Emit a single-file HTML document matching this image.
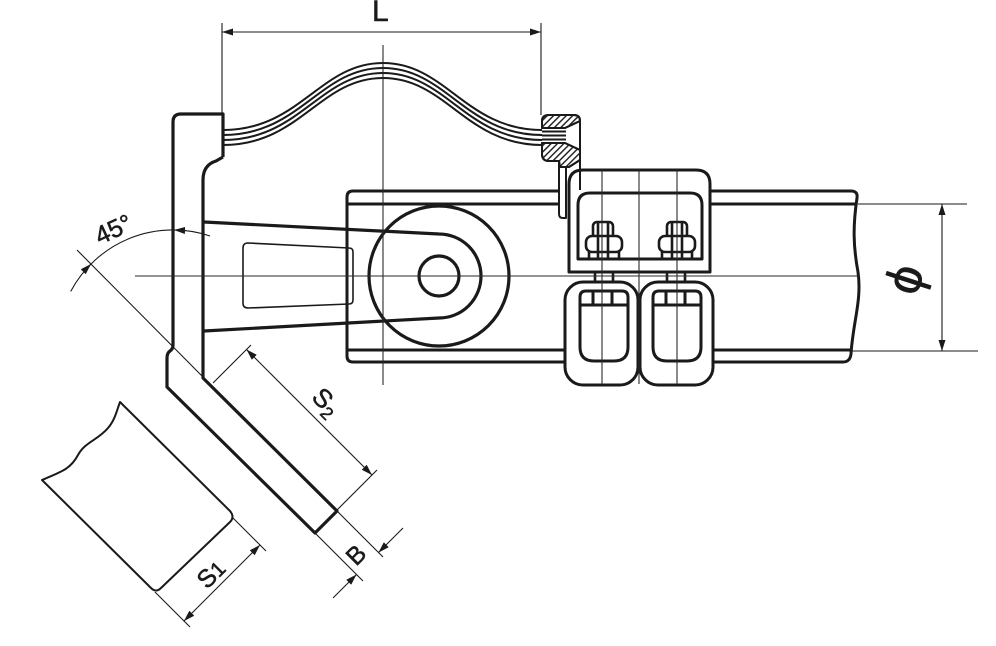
<!DOCTYPE html>
<html><head><meta charset="utf-8"><style>
html,body{margin:0;padding:0;background:#fff;}
svg{display:block;}
text{font-family:"Liberation Sans","DejaVu Sans",sans-serif;fill:#1a1a1a;stroke:#1a1a1a;stroke-width:0.5;}
</style></head><body>
<svg width="996" height="646" viewBox="0 0 996 646" xmlns="http://www.w3.org/2000/svg">
<defs>
<pattern id="h" patternUnits="userSpaceOnUse" width="4.5" height="4.5" patternTransform="rotate(45)">
<line x1="0.7" y1="0" x2="0.7" y2="4.5" stroke="#1a1a1a" stroke-width="1.4"/>
</pattern>
<marker id="a" markerUnits="userSpaceOnUse" markerWidth="11" markerHeight="7" refX="11" refY="3.5" orient="auto-start-reverse"><path d="M0,0 L11,3.5 L0,7 Z" fill="#1a1a1a"/></marker>
</defs>

<!-- pipe -->
<g fill="none" stroke="#1a1a1a" stroke-width="3" stroke-linejoin="round">
<path d="M559,191 L353,191 Q347,191 347,197 L347,356 Q347,362 353,362 L565,362"/>
<path d="M347,204 L559,204 M347,350 L565,350"/>
<path d="M710,191 L851,191 Q858,191 857,198 C853,225 853,245 858,272 C862,300 853,322 851,354 Q850,362 843,362 L713,362"/>
<path d="M710,204 L856,204 M713,350 L851,350"/>
</g>

<!-- bracket -->
<g fill="none" stroke="#1a1a1a" stroke-width="3.2" stroke-linejoin="round">
<path d="M223,157 L223,114 L181,114 Q173,114 173,122 L173,345 Q173,349 170,351 Q167,353 167,358 L167,387 L315,533 L337,511 L203,378 L203,180 Q203,165 216,161 L223,157"/>
<path d="M204,222 L439,234 A42,42 0 0 1 439,318 L204,331"/>
<circle cx="439" cy="276" r="70"/>
<circle cx="439" cy="276" r="20"/>
</g>
<path d="M248,243 L349,248 Q353,248 353,252 L353,300 Q353,304 349,304 L248,308 Q243,308 243,303 L243,248 Q243,243 248,243 Z" fill="none" stroke="#1a1a1a" stroke-width="1.6"/>

<!-- wires -->
<g fill="none" stroke="#1a1a1a" stroke-width="2">
<path d="M223,130 C300,130 320,63 383,63 C446,63 466,130 542,130"/>
<path d="M223,135 C300,135 320,68 383,68 C446,68 466,135 542,135"/>
<path d="M223,140 C300,140 320,73 383,73 C446,73 466,140 542,140"/>
<path d="M223,145 C300,145 320,78 383,78 C446,78 466,145 542,145"/>
<path d="M542,131.5 H566 M542,135.5 H566 M542,139.5 H566"/>
</g>

<!-- hatched end fitting -->
<g stroke="#1a1a1a" stroke-width="2" stroke-linejoin="round">
<path d="M542,128 L542,121 Q542,115 549,115 L574,115 Q580,115 580,121 L565,128 Z" fill="#fff"/>
<path d="M542,128 L542,121 Q542,115 549,115 L574,115 Q580,115 580,121 L565,128 Z" fill="url(#h)"/>
<path d="M542,143 L565,143 L580,150 L580,160 L569,167 L560,167 L559,161 L549,161 Q542,161 542,154 Z" fill="#fff"/>
<path d="M542,143 L565,143 L580,150 L580,160 L569,167 L560,167 L559,161 L549,161 Q542,161 542,154 Z" fill="url(#h)"/>
<path d="M559,161 L559,214 Q559,218 563,218 L566,218 L566,167" fill="none"/>
</g>

<!-- upper clamp box -->
<g stroke="#1a1a1a" stroke-width="3" stroke-linejoin="round">
<path d="M569,272 L569,184 Q569,170 583,170 L696,170 Q710,170 710,184 L710,272 Z" fill="#fff"/>
<path d="M578,259 L578,205 Q578,193 590,193 L690,193 Q702,193 702,205 L702,259 Z" fill="none"/>
</g>
<path d="M580,121 L580,190" stroke="#1a1a1a" stroke-width="2" fill="none"/>

<!-- nuts -->
<g fill="#fff" stroke="#1a1a1a" stroke-width="2.6">
<rect x="593" y="222" width="20" height="16" rx="4"/>
<rect x="586" y="236" width="36" height="16" rx="6"/>
<path d="M589,252 V259 M619,252 V259 M598,222 V259 M608,222 V259" fill="none"/>
<rect x="667" y="222" width="20" height="16" rx="4"/>
<rect x="659" y="236" width="36" height="16" rx="6"/>
<path d="M662,252 V259 M692,252 V259 M672,222 V259 M682,222 V259" fill="none"/>
<path d="M595,272 V283 M613,272 V283 M667,272 V283 M685,272 V283" fill="none"/>
</g>

<!-- lower clamp boxes -->
<g stroke="#1a1a1a" stroke-width="3" stroke-linejoin="round">
<rect x="565" y="282" width="73" height="103" rx="18" fill="#fff"/>
<rect x="640" y="282" width="73" height="103" rx="18" fill="#fff"/>
<path d="M580,297 Q580,291 586,291 L622,291 Q628,291 628,297 L628,347 Q628,361 614,361 L594,361 Q580,361 580,347 Z M580,305 H628 M593,291 V305 M612,291 V305" fill="none"/>
<path d="M653,297 Q653,291 659,291 L695,291 Q701,291 701,297 L701,347 Q701,361 687,361 L667,361 Q653,361 653,347 Z M653,305 H701 M666,291 V305 M685,291 V305" fill="none"/>
</g>

<!-- centerlines -->
<g stroke="#2a2a2a" stroke-width="1.1" fill="none">
<path d="M135,276 H860 M383,45 V385 M602,170 V384 M639,170 V384 M677,170 V384"/>
</g>

<!-- stub conductor -->
<path d="M120,402 L230,511 Q235,517 230,522 L161,588 Q156,593 151,588 L42,480 C60,472 70,470 78,455 C85,442 98,440 108,428 C115,420 117,410 120,402 Z" fill="none" stroke="#1a1a1a" stroke-width="2" stroke-linejoin="round"/>

<!-- dimensions -->
<g stroke="#1a1a1a" stroke-width="1.1" fill="none">
<path d="M222,23 V113 M541,23 V115"/>
<path d="M222,32 H541" marker-start="url(#a)" marker-end="url(#a)"/>
<path d="M858,204 H967 M851,351 H978"/>
<path d="M942,204 V351" marker-start="url(#a)" marker-end="url(#a)"/>
<path d="M77,250 L203,377"/>
<path d="M70.7,291.4 A116,116 0 0 1 210,236"/>
<path d="M84,271 L91,264" marker-end="url(#a)"/>
<path d="M186,230.5 L174,230" marker-end="url(#a)"/>
<path d="M232,517 L266,551 M155,592 L190,627"/>
<path d="M184,621 L260,545" marker-start="url(#a)" marker-end="url(#a)"/>
<path d="M213,383 L251,345 M337,510 L377,470"/>
<path d="M246.5,349.5 L372,475" marker-start="url(#a)" marker-end="url(#a)"/>
<path d="M337,511 L383,557 M315,533 L363,581"/>
<path d="M333,598 L356.5,574.5" marker-end="url(#a)"/>
<path d="M403,528 L378.5,552.5" marker-end="url(#a)"/>
</g>

<!-- labels -->
<text x="372" y="21" font-size="30">L</text>
<text transform="translate(117,237) rotate(-25)" font-size="25" text-anchor="middle">45°</text>
<text transform="translate(320,408) rotate(45)" font-size="26" text-anchor="middle">S<tspan font-size="18" dy="5">2</tspan></text>
<text transform="translate(217,580) rotate(-45)" font-size="25" text-anchor="middle">S<tspan font-size="21">1</tspan></text>
<text transform="translate(362,561) rotate(-45)" font-size="25" text-anchor="middle">B</text>
<text transform="translate(908,280) rotate(-72)" font-size="50" text-anchor="middle" dy="0.27em">ϕ</text>
</svg>
</body></html>
